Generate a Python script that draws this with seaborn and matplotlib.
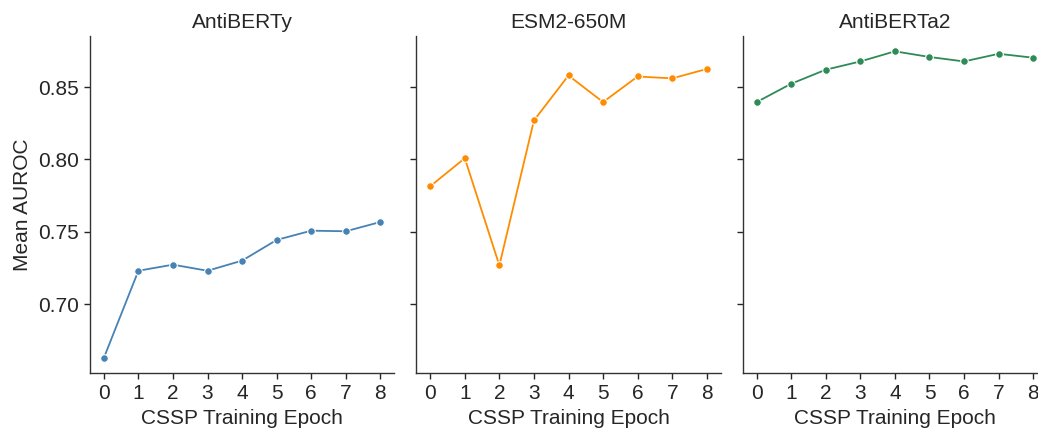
import pandas as pd
import seaborn as sns
import matplotlib.pyplot as plt

# 데이터: CSSP 학습 epoch별 평균 AUROC
epochs = [0, 1, 2, 3, 4, 5, 6, 7, 8]
models = ['AntiBERTy', 'ESM2-650M', 'AntiBERTa2']
antiberty = [0.6627, 0.7230, 0.7272, 0.7230, 0.7300, 0.7443, 0.7507, 0.7503, 0.7567]
esm2 = [0.7814, 0.8008, 0.7267, 0.8269, 0.8580, 0.8396, 0.8573, 0.8560, 0.8625]
antiberta2 = [0.8396, 0.8523, 0.8620, 0.8677, 0.8747, 0.8708, 0.8677, 0.8730, 0.8703]
colors = ['#4682B4', '#FF8C00', '#2E8B57']

sns.set_theme(style='ticks')
plt.rcParams['font.family'] = ['Liberation Sans', 'DejaVu Sans']
plt.rcParams['axes.edgecolor'] = '#333333'
plt.rcParams['axes.linewidth'] = 1.0
plt.rcParams['xtick.major.size'] = 4.5
plt.rcParams['ytick.major.size'] = 4.5
plt.rcParams['xtick.major.width'] = 1.0
plt.rcParams['ytick.major.width'] = 1.0

df = pd.DataFrame({
    'epoch': epochs * 3,
    'auroc': antiberty + esm2 + antiberta2,
    'model': [m for m in models for _ in epochs],
})

fs = 15
fig, axes = plt.subplots(1, 3, figsize=(10.38, 4.29), dpi=100, sharey=True)
fig.subplots_adjust(left=90 / 1038, right=1047 / 1038, bottom=1 - 373.3 / 429,
                    top=1 - 36 / 429, wspace=0.073)

for ax, model, color in zip(axes, models, colors):
    sub = df[df['model'] == model]
    sns.lineplot(data=sub, x='epoch', y='auroc', ax=ax, color=color, marker='o',
                 markersize=5.5, markeredgecolor='white', markeredgewidth=0.8, linewidth=1.3)
    ax.set_title(model, fontsize=fs)
    ax.set_xlabel('CSSP Training Epoch', fontsize=fs)
    ax.set_ylabel('Mean AUROC', fontsize=fs)
    ax.set_xticks(epochs)
    ax.tick_params(labelsize=fs)
    sns.despine(ax=ax)

for ax in axes[1:]:
    ax.set_ylabel('')

axes[0].set_yticks([0.70, 0.75, 0.80, 0.85])
axes[0].set_yticklabels(['0.70', '0.75', '0.80', '0.85'])

plt.savefig('out.png', dpi=100)
